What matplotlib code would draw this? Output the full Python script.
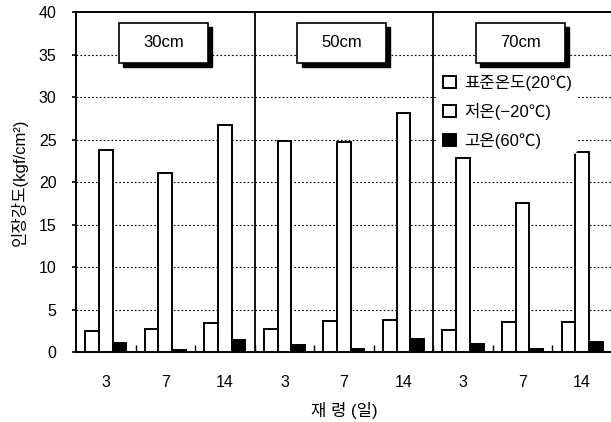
import numpy as np
import matplotlib
matplotlib.use("Agg")
import matplotlib.pyplot as plt
from matplotlib.patches import Rectangle

plt.rcParams['font.family'] = ['Liberation Sans', 'Noto Sans CJK KR', 'DejaVu Sans']

# data
groups = ["30cm", "50cm", "70cm"]
ages = ["3", "7", "14"]
series_names = ["표준온도(20℃)", "저온(−20℃)", "고온(60℃)"]
std_temp = [2.5, 2.8, 3.5, 2.8, 3.7, 3.8, 2.7, 3.6, 3.6]
low_temp = [23.8, 21.1, 26.7, 24.9, 24.7, 28.1, 22.9, 17.6, 23.6]
high_temp = [1.1, 0.35, 1.5, 0.85, 0.45, 1.55, 0.95, 0.45, 1.25]

values = [std_temp, low_temp, high_temp]
faces = ["white", "white", "black"]

fig = plt.figure(figsize=(6.11, 4.22), dpi=100)
ax = fig.add_axes([0.1244, 0.1647, 0.877, 0.807])

n = len(groups) * len(ages)
x = np.arange(n)
bw = 0.23

for k, (vals, fc) in enumerate(zip(values, faces)):
    ax.bar(x + (k - 1) * bw, vals, width=bw, color=fc, edgecolor="black",
           linewidth=1.4, label=series_names[k], zorder=3)

ax.set_xlim(-0.5, n - 0.5)
ax.set_ylim(0, 40)
ax.set_yticks(range(0, 41, 5))
ax.set_xticks(x)
ax.set_xticklabels(ages * len(groups))
ax.set_xticks(np.arange(0.5, n - 0.5, 1), minor=True)

ax.tick_params(axis="x", which="major", length=0, pad=16, labelsize=11.5)
ax.tick_params(axis="x", which="minor", direction="in", length=5, width=1)
ax.tick_params(axis="y", length=3, width=1.2, pad=11, labelsize=11.5)

# dotted gridlines
for yv in range(5, 40, 5):
    ax.axhline(yv, color="black", linestyle=(0, (1.5, 2)), linewidth=0.8, zorder=1)

for sp in ["left", "top", "bottom"]:
    ax.spines[sp].set_linewidth(1.4)
ax.spines["right"].set_visible(False)

# group dividers
for g in range(1, len(groups)):
    ax.axvline(g * len(ages) - 0.5, color="black", linewidth=1.3, zorder=4)

# group label boxes with drop shadow
for g, name in enumerate(groups):
    x0 = g * len(ages) + 0.22
    ax.add_patch(Rectangle((x0 + 0.07, 34.06 - 0.47), 1.49, 4.64,
                           facecolor="black", edgecolor="black", zorder=5))
    ax.add_patch(Rectangle((x0, 34.06), 1.49, 4.64, facecolor="white",
                           edgecolor="black", linewidth=1.2, zorder=6))
    ax.text(x0 + 0.745, 36.38, name, ha="center", va="center",
            fontsize=12, zorder=7)

leg = ax.legend(loc="upper left", bbox_to_anchor=(0.66, 0.855), frameon=True,
                fontsize=12, handlelength=0.75, handleheight=0.75,
                handletextpad=0.5, labelspacing=0.75, borderpad=0.3)
leg.get_frame().set_facecolor("white")
leg.get_frame().set_edgecolor("none")
leg.get_frame().set_alpha(1)
leg.set_zorder(8)

ax.set_ylabel("인장강도(kgf/cm²)", fontsize=12, labelpad=8)
ax.set_xlabel("재 령 (일)", fontsize=12, labelpad=9)

fig.savefig("out.png", dpi=100)
